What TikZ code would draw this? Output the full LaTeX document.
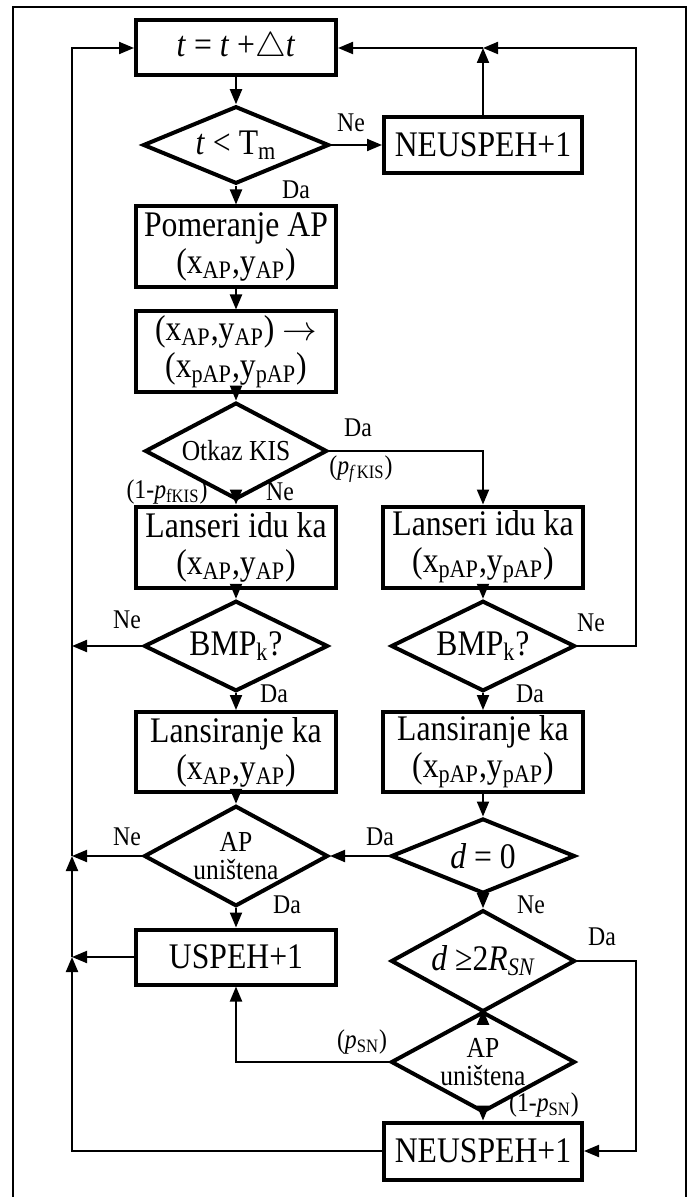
\documentclass[tikz,border=0pt]{standalone}
\usepackage{amsmath,amssymb}
\usepackage{fontspec}
\setmainfont[FakeStretch=0.88]{Liberation Serif}
\usepackage{tikz}
\usetikzlibrary{arrows.meta,shapes.geometric}

\begin{document}
\begin{tikzpicture}[x=0.5pt,y=-0.5pt,
  box/.style={draw,line width=2pt,minimum width=100pt,minimum height=40.5pt,
    inner sep=0pt,align=center,font=\fontsize{18}{18.5}\selectfont},
  dec/.style={draw,diamond,line width=2pt,inner sep=-4pt,minimum width=92pt,
    minimum height=37.5pt,align=center,font=\fontsize{18}{18.5}\selectfont},
  small/.style={font=\fontsize{14.5}{14}\selectfont},
  lbl/.style={font=\fontsize{13.5}{13}\selectfont,inner sep=0pt},
  arr/.style={line width=1pt,-{Triangle[length=7.5pt,width=6pt]}},
  wire/.style={line width=1pt}]
  \useasboundingbox (0,0) rectangle (692,1197);
  \draw[line width=1pt] (13,1197) -- (13,7) -- (686,7) -- (686,1197);

  \node[box,minimum height=27.5pt] (tick) at (236,48) {\textit{t} = \textit{t} +$\triangle$\textit{t}};
  \node[dec,minimum width=93pt,minimum height=38pt] (tlim) at (236,145) {\textit{t} < T$_\text{m}$};
  \node[box,minimum width=99pt,minimum height=28pt] (fail1) at (483,145) {NEUSPEH+1};
  \node[box] (move) at (236,247) {Pomeranje AP\\(x$_\text{AP}$,y$_\text{AP}$)};
  \node[box] (pred) at (236,352) {(x$_\text{AP}$,y$_\text{AP}$) $\rightarrow$\\(x$_\text{pAP}$,y$_\text{pAP}$)};
  \node[dec,small,minimum width=91pt,minimum height=42pt] (kis) at (236,451) {Otkaz KIS};
  \node[box] (goL) at (236,547) {Lanseri idu ka\\(x$_\text{AP}$,y$_\text{AP}$)};
  \node[box] (goR) at (483,547) {Lanseri idu ka\\(x$_\text{pAP}$,y$_\text{pAP}$)};
  \node[dec] (bmpL) at (236,646) {BMP$_\text{k}$?};
  \node[dec] (bmpR) at (483,646) {BMP$_\text{k}$?};
  \node[box,minimum height=40pt] (fireL) at (236,752) {Lansiranje ka\\(x$_\text{AP}$,y$_\text{AP}$)};
  \node[box,minimum height=40pt] (fireR) at (483,752) {Lansiranje ka\\(x$_\text{pAP}$,y$_\text{pAP}$)};
  \node[dec,small] (hitL) at (236,856) {AP\\uništena};
  \node[dec] (dzero) at (483,856) {\textit{d} = 0};
  \node[box,minimum height=27.5pt] (win) at (236,957) {USPEH+1};
  \node[dec] (dfar) at (483,961) {\textit{d} ≥2\textit{R}$_\text{\itshape SN}$};
  \node[dec,small,minimum height=36.5pt] (hitR) at (483,1062) {AP\\uništena};
  \node[box,minimum width=99pt,minimum height=28.5pt] (fail2) at (483,1151) {NEUSPEH+1};

  \coordinate (ltop) at (72,48);
  \coordinate (jB) at (72,646);
  \coordinate (jA) at (72,856);
  \coordinate (jU) at (72,957);
  \coordinate (lbot) at (72,1151);
  \coordinate (rtop) at (636,48);
  \coordinate (jN) at (483,48);
  \coordinate (rbot) at (636,1151);

  \draw[arr] (tick.south) -- (tlim.north);
  \draw[arr] (tlim.east) -- (fail1.west);
  \draw[arr] (fail1.north) -- (jN);
  \draw[arr] (jN) -- (tick.east);
  \draw[arr] (tlim.south) -- (move.north);
  \draw[arr] (move.south) -- (pred.north);
  \draw[arr] (pred.south) -- (kis.north);
  \draw[arr] (kis.east) -| (goR.north);
  \draw[arr] (kis.south) -- (goL.north);
  \draw[arr] (goL.south) -- (bmpL.north);
  \draw[arr] (goR.south) -- (bmpR.north);
  \draw[arr] (bmpL.west) -- (jB);
  \draw[arr] (bmpR.east) -| (rtop) -- (jN);
  \draw[arr] (bmpL.south) -- (fireL.north);
  \draw[arr] (bmpR.south) -- (fireR.north);
  \draw[arr] (fireL.south) -- (hitL.north);
  \draw[arr] (fireR.south) -- (dzero.north);
  \draw[arr] (dzero.west) -- (hitL.east);
  \draw[arr] (hitL.west) -- (jA);
  \draw[arr] (hitL.south) -- (win.north);
  \draw[arr] (dzero.south) -- (dfar.north);
  \draw[arr] (dfar.east) -| (rbot) -- (fail2.east);
  \draw[arr] (dfar.south) -- (hitR.north);
  \draw[arr] (hitR.west) -| (win.south);
  \draw[arr] (hitR.south) -- (fail2.north);
  \draw[arr] (fail2.west) -- (lbot) -- (jU);
  \draw[arr] (win.west) -- (jU);
  \draw[arr] (jU) -- (jA);
  \draw[arr] (jA) -- (ltop) -- (tick.west);

  \foreach \n/\x/\y/\t in {a/351/123/Ne, b/296/190/Da, c/358/428/Da, d/280/492/Ne,
      e/127/620/Ne, f/591/623/Ne, g/274/694/Da, h/530/694/Da, i/127/837/Ne,
      j/380/837/Da, k/287/905/Da, l/531/905/Ne, m/602/937/Da}
    {\node[lbl] (lab\n) at (\x,\y) {\t};}
  \node[lbl] (pkis) at (361,469) {(\textit{p}$_{\textit{f}\,\text{KIS}}$)};
  \node[lbl] (qkis) at (167,492) {(1-\textit{p}$_\text{fKIS}$)};
  \node[lbl] (psn) at (362,1042) {(\textit{p}$_\text{SN}$)};
  \node[lbl] (qsn) at (544,1105) {(1-\textit{p}$_\text{SN}$)};
\end{tikzpicture}
\end{document}
